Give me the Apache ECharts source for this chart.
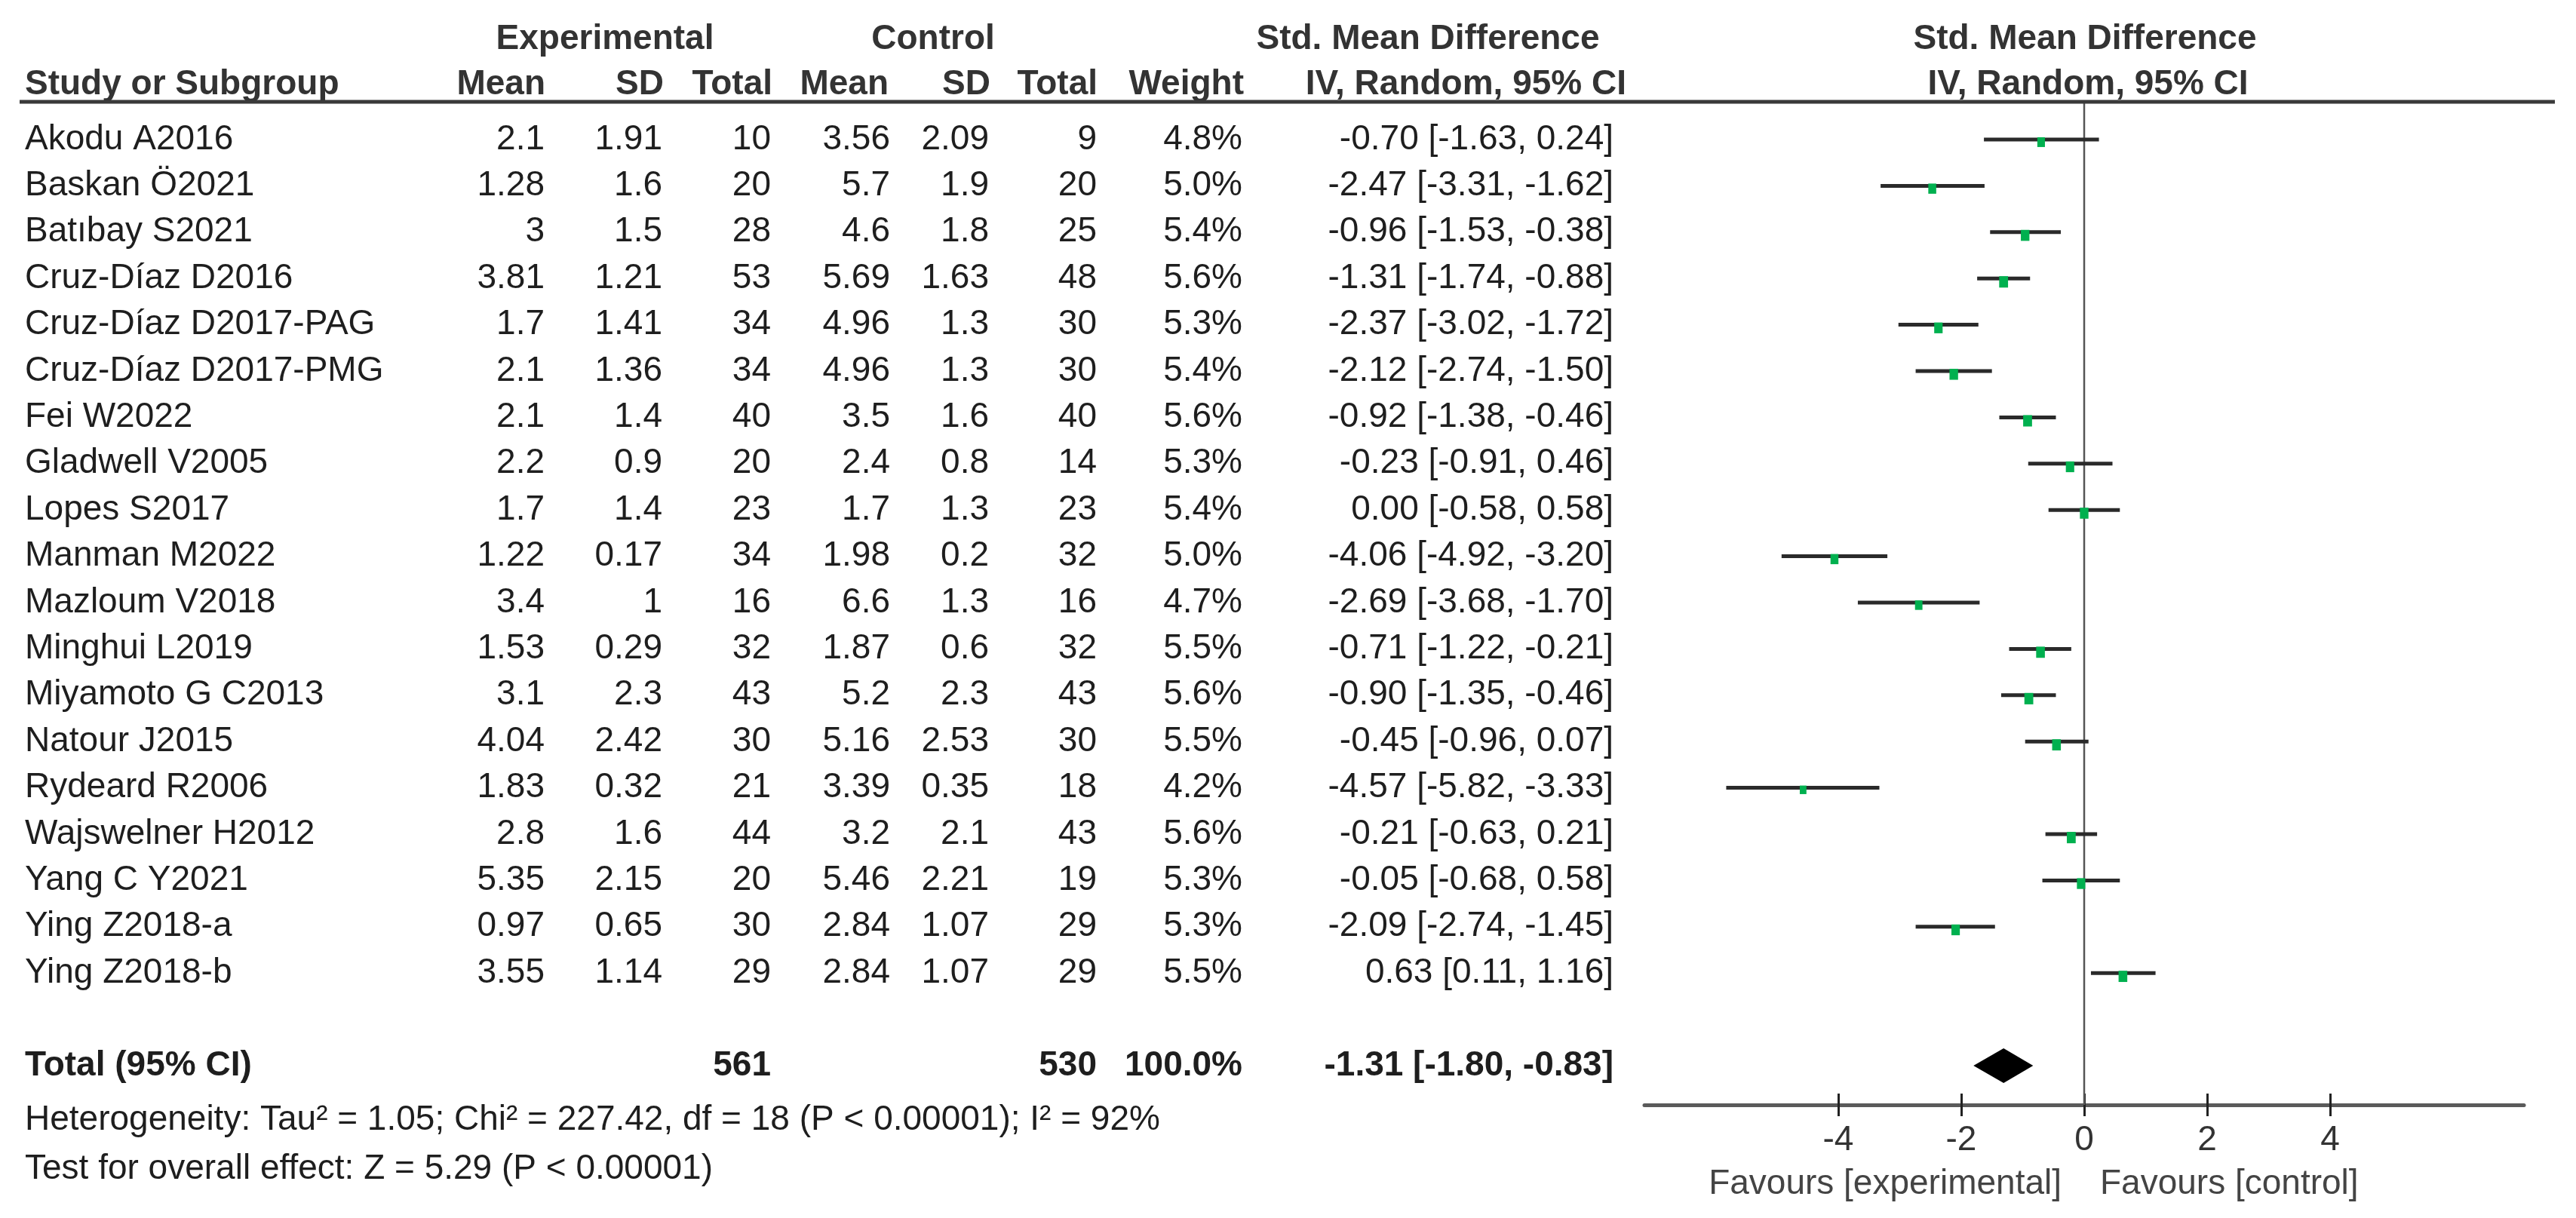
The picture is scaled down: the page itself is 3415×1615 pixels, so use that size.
<!DOCTYPE html>
<html><head><meta charset="utf-8">
<script src="https://cdn.jsdelivr.net/npm/echarts@6/dist/echarts.min.js"></script>
<style>html,body{margin:0;padding:0;background:#fff}#c{width:3415px;height:1615px}</style>
</head><body><div id="c"></div>
<script>
// ---------- data ----------
const studies = ['Akodu A2016','Baskan Ö2021','Batıbay S2021','Cruz-Díaz D2016','Cruz-Díaz D2017-PAG','Cruz-Díaz D2017-PMG','Fei W2022','Gladwell V2005','Lopes S2017','Manman M2022','Mazloum V2018','Minghui L2019','Miyamoto G C2013','Natour J2015','Rydeard R2006','Wajswelner H2012','Yang C Y2021','Ying Z2018-a','Ying Z2018-b'];
const expMean  = [2.1,1.28,3,3.81,1.7,2.1,2.1,2.2,1.7,1.22,3.4,1.53,3.1,4.04,1.83,2.8,5.35,0.97,3.55];
const expSD    = [1.91,1.6,1.5,1.21,1.41,1.36,1.4,0.9,1.4,0.17,1,0.29,2.3,2.42,0.32,1.6,2.15,0.65,1.14];
const expN     = [10,20,28,53,34,34,40,20,23,34,16,32,43,30,21,44,20,30,29];
const ctrlMean = [3.56,5.7,4.6,5.69,4.96,4.96,3.5,2.4,1.7,1.98,6.6,1.87,5.2,5.16,3.39,3.2,5.46,2.84,2.84];
const ctrlSD   = [2.09,1.9,1.8,1.63,1.3,1.3,1.6,0.8,1.3,0.2,1.3,0.6,2.3,2.53,0.35,2.1,2.21,1.07,1.07];
const ctrlN    = [9,20,25,48,30,30,40,14,23,32,16,32,43,30,18,43,19,29,29];
const weights  = [4.8,5.0,5.4,5.6,5.3,5.4,5.6,5.3,5.4,5.0,4.7,5.5,5.6,5.5,4.2,5.6,5.3,5.3,5.5];
const smd      = [-0.70,-2.47,-0.96,-1.31,-2.37,-2.12,-0.92,-0.23,0.00,-4.06,-2.69,-0.71,-0.90,-0.45,-4.57,-0.21,-0.05,-2.09,0.63];
const ciLow    = [-1.63,-3.31,-1.53,-1.74,-3.02,-2.74,-1.38,-0.91,-0.58,-4.92,-3.68,-1.22,-1.35,-0.96,-5.82,-0.63,-0.68,-2.74,0.11];
const ciHigh   = [0.24,-1.62,-0.38,-0.88,-1.72,-1.50,-0.46,0.46,0.58,-3.20,-1.70,-0.21,-0.46,0.07,-3.33,0.21,0.58,-1.45,1.16];
const totalExpN = 561, totalCtrlN = 530, totalWeight = 100.0;
const totalSMD = -1.31, totalLow = -1.80, totalHigh = -0.83;
const xTicks = [-4,-2,0,2,4];
const heterogeneityText = 'Heterogeneity: Tau² = 1.05; Chi² = 227.42, df = 18 (P < 0.00001); I² = 92%';
const overallText = 'Test for overall effect: Z = 5.29 (P < 0.00001)';
const favourLeft = 'Favours [experimental]', favourRight = 'Favours [control]';

// ---------- layout ----------
const FF = '"Liberation Sans", Arial, sans-serif';
const F = '46px ' + FF, FB = 'bold 46px ' + FF;
const TXT = '#1e1e1e', HDR = '#333';
const totalRow = studies.length + 1;
const yMin = -0.814, yMax = 20.847;
const gridTop = 135, gridH = 1330;

const fmt2 = v => v.toFixed(2);
const ciStr = (e,l,h) => `${fmt2(e)} [${fmt2(l)}, ${fmt2(h)}]`;
const cols = [
  {x:33,   align:'left',  f:i=>studies[i],        t:'Total (95% CI)'},
  {x:722,  align:'right', f:i=>String(expMean[i]), t:''},
  {x:878,  align:'right', f:i=>String(expSD[i]),   t:''},
  {x:1022, align:'right', f:i=>String(expN[i]),    t:String(totalExpN)},
  {x:1180, align:'right', f:i=>String(ctrlMean[i]),t:''},
  {x:1311, align:'right', f:i=>String(ctrlSD[i]),  t:''},
  {x:1454, align:'right', f:i=>String(ctrlN[i]),   t:String(totalCtrlN)},
  {x:1647, align:'right', f:i=>weights[i].toFixed(1)+'%', t:totalWeight.toFixed(1)+'%'},
  {x:2139, align:'right', f:i=>ciStr(smd[i],ciLow[i],ciHigh[i]), t:ciStr(totalSMD,totalLow,totalHigh)}
];

const textData = studies.map((s,i)=>[i, 0]).concat([[totalRow, 1]]);

const hText = (x,y,text,align,font,fill) => ({type:'text', x, y, style:{text, textAlign:align, textVerticalAlign:'middle', font, fill}});

const chart = echarts.init(document.getElementById('c'), null, {renderer:'canvas'});
chart.setOption({
  animation:false,
  backgroundColor:'#fff',
  grid:[
    {left:2180, width:1166, top:gridTop, height:gridH},
    {left:0, width:3415, top:gridTop, height:gridH}
  ],
  xAxis:[
    {type:'value', gridIndex:0, min:-7.15, max:7.15, position:'bottom',
     axisLine:{show:true, onZero:false, lineStyle:{color:'#5a5a5a', width:5}},
     axisTick:{show:true, customValues:xTicks, length:15, lineStyle:{color:'#222', width:3}},
     axisLabel:{show:true, customValues:xTicks, margin:24, fontSize:46, fontFamily:FF, color:'#333', formatter:v=>String(v)},
     splitLine:{show:false}},
    {type:'value', gridIndex:0, min:-7.15, max:7.15, position:'bottom',
     axisLine:{show:false, onZero:false},
     axisTick:{show:true, inside:true, customValues:xTicks, length:15, lineStyle:{color:'#222', width:3}},
     axisLabel:{show:false}, splitLine:{show:false}},
    {type:'value', gridIndex:1, min:0, max:3415, show:false, axisLine:{onZero:false}}
  ],
  yAxis:[
    {type:'value', gridIndex:0, min:yMin, max:yMax, inverse:true, show:false, axisLine:{onZero:false}},
    {type:'value', gridIndex:1, min:yMin, max:yMax, inverse:true, show:false, axisLine:{onZero:false}}
  ],
  graphic:[
    {type:'line', shape:{x1:26, y1:135, x2:3387, y2:135}, style:{stroke:'#3a3a3a', lineWidth:5}, z:10},
    hText(802,52,'Experimental','center',FB,HDR),
    hText(1237,52,'Control','center',FB,HDR),
    hText(1893,52,'Std. Mean Difference','center',FB,HDR),
    hText(2764,52,'Std. Mean Difference','center',FB,HDR),
    hText(33,112,'Study or Subgroup','left',FB,HDR),
    hText(723,112,'Mean','right',FB,HDR),
    hText(880,112,'SD','right',FB,HDR),
    hText(1024,112,'Total','right',FB,HDR),
    hText(1178,112,'Mean','right',FB,HDR),
    hText(1313,112,'SD','right',FB,HDR),
    hText(1455,112,'Total','right',FB,HDR),
    hText(1649,112,'Weight','right',FB,HDR),
    hText(2156,112,'IV, Random, 95% CI','right',FB,HDR),
    hText(2768,112,'IV, Random, 95% CI','center',FB,HDR),
    hText(33,1485,heterogeneityText,'left',F,TXT),
    hText(33,1550,overallText,'left',F,TXT),
    hText(2733,1570,favourLeft,'right',F,'#444'),
    hText(2784,1570,favourRight,'left',F,'#444')
  ],
  series:[
    {type:'line', xAxisIndex:0, yAxisIndex:0, data:[[0,yMin],[0,yMax]], showSymbol:false, silent:true,
     lineStyle:{color:'#555', width:2.5}, z:1},
    {type:'custom', xAxisIndex:0, yAxisIndex:0, encode:{x:[1,2,3], y:0},
     data: studies.map((s,i)=>[i, ciLow[i], smd[i], ciHigh[i], weights[i]]),
     renderItem(params, api){
       const i = api.value(0), lo = api.value(1), est = api.value(2), hi = api.value(3), w = api.value(4);
       const p1 = api.coord([lo,i]), p2 = api.coord([hi,i]), pe = api.coord([est,i]);
       const mw = w*2.1, mh = w*2.7;
       return {type:'group', children:[
         {type:'line', shape:{x1:p1[0], y1:p1[1], x2:p2[0], y2:p2[1]}, style:{stroke:'#2a2a2a', lineWidth:5}},
         {type:'rect', shape:{x:pe[0]-mw/2, y:pe[1]-3, width:mw, height:mh}, style:{fill:'#00b04f'}}
       ]};
     }, z:3},
    {type:'custom', xAxisIndex:0, yAxisIndex:0, encode:{x:[1,2,3], y:0},
     data:[[totalRow, totalLow, totalSMD, totalHigh]],
     renderItem(params, api){
       const i = api.value(0);
       const a = api.coord([api.value(1), i]), m = api.coord([api.value(2), i]), b = api.coord([api.value(3), i]);
       const h = 23;
       return {type:'polygon', shape:{points:[[a[0],a[1]],[m[0],m[1]-h],[b[0],b[1]],[m[0],m[1]+h]]}, style:{fill:'#000'}};
     }, z:3},
    {type:'custom', xAxisIndex:2, yAxisIndex:1, encode:{x:1, y:0},
     data: textData,
     renderItem(params, api){
       const i = api.value(0), isTotal = api.value(1) === 1;
       return {type:'group', children: cols.map(c => {
         const p = api.coord([c.x, i]);
         return {type:'text', x:p[0], y:p[1], style:{text: isTotal ? c.t : c.f(i), textAlign:c.align, textVerticalAlign:'middle', font: isTotal ? FB : F, fill:TXT}};
       })};
     }, z:4}
  ]
});
</script></body></html>
